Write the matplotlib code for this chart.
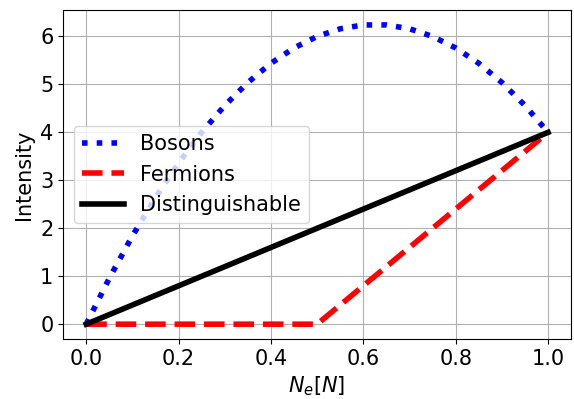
import numpy as np
import matplotlib
matplotlib.use("Agg")
import matplotlib.pyplot as plt

# values
x = [0.0, 0.05, 0.1, 0.15, 0.2, 0.25, 0.3, 0.35, 0.4, 0.45, 0.5,
     0.55, 0.6, 0.65, 0.7, 0.75, 0.8, 0.85, 0.9, 0.95, 1.0]
bosons = [0.0, 0.96, 1.84, 2.64, 3.36, 4.0, 4.56, 5.04, 5.44, 5.76, 6.0,
          6.16, 6.24, 6.24, 6.16, 6.0, 5.76, 5.44, 5.04, 4.56, 4.0]
fermions_x = [0.0, 0.5, 1.0]
fermions = [0.0, 0.0, 4.0]
dist_x = [0.0, 1.0]
distinguishable = [0.0, 4.0]

plt.rcParams["font.size"] = 15

fig, ax = plt.subplots(figsize=(5.74, 3.99), dpi=100)
ax.plot(x, bosons, ":", color="blue", lw=4, label="Bosons")
ax.plot(fermions_x, fermions, "--", color="red", lw=4, label="Fermions")
ax.plot(dist_x, distinguishable, "-", color="black", lw=4, label="Distinguishable")
ax.set_xlabel(r"$N_e[N]$")
ax.set_ylabel("Intensity")
ax.grid(True)
ax.legend(loc="center left")
fig.subplots_adjust(left=0.11, right=0.995, top=0.975, bottom=0.15)
fig.savefig("out.png", dpi=100)
